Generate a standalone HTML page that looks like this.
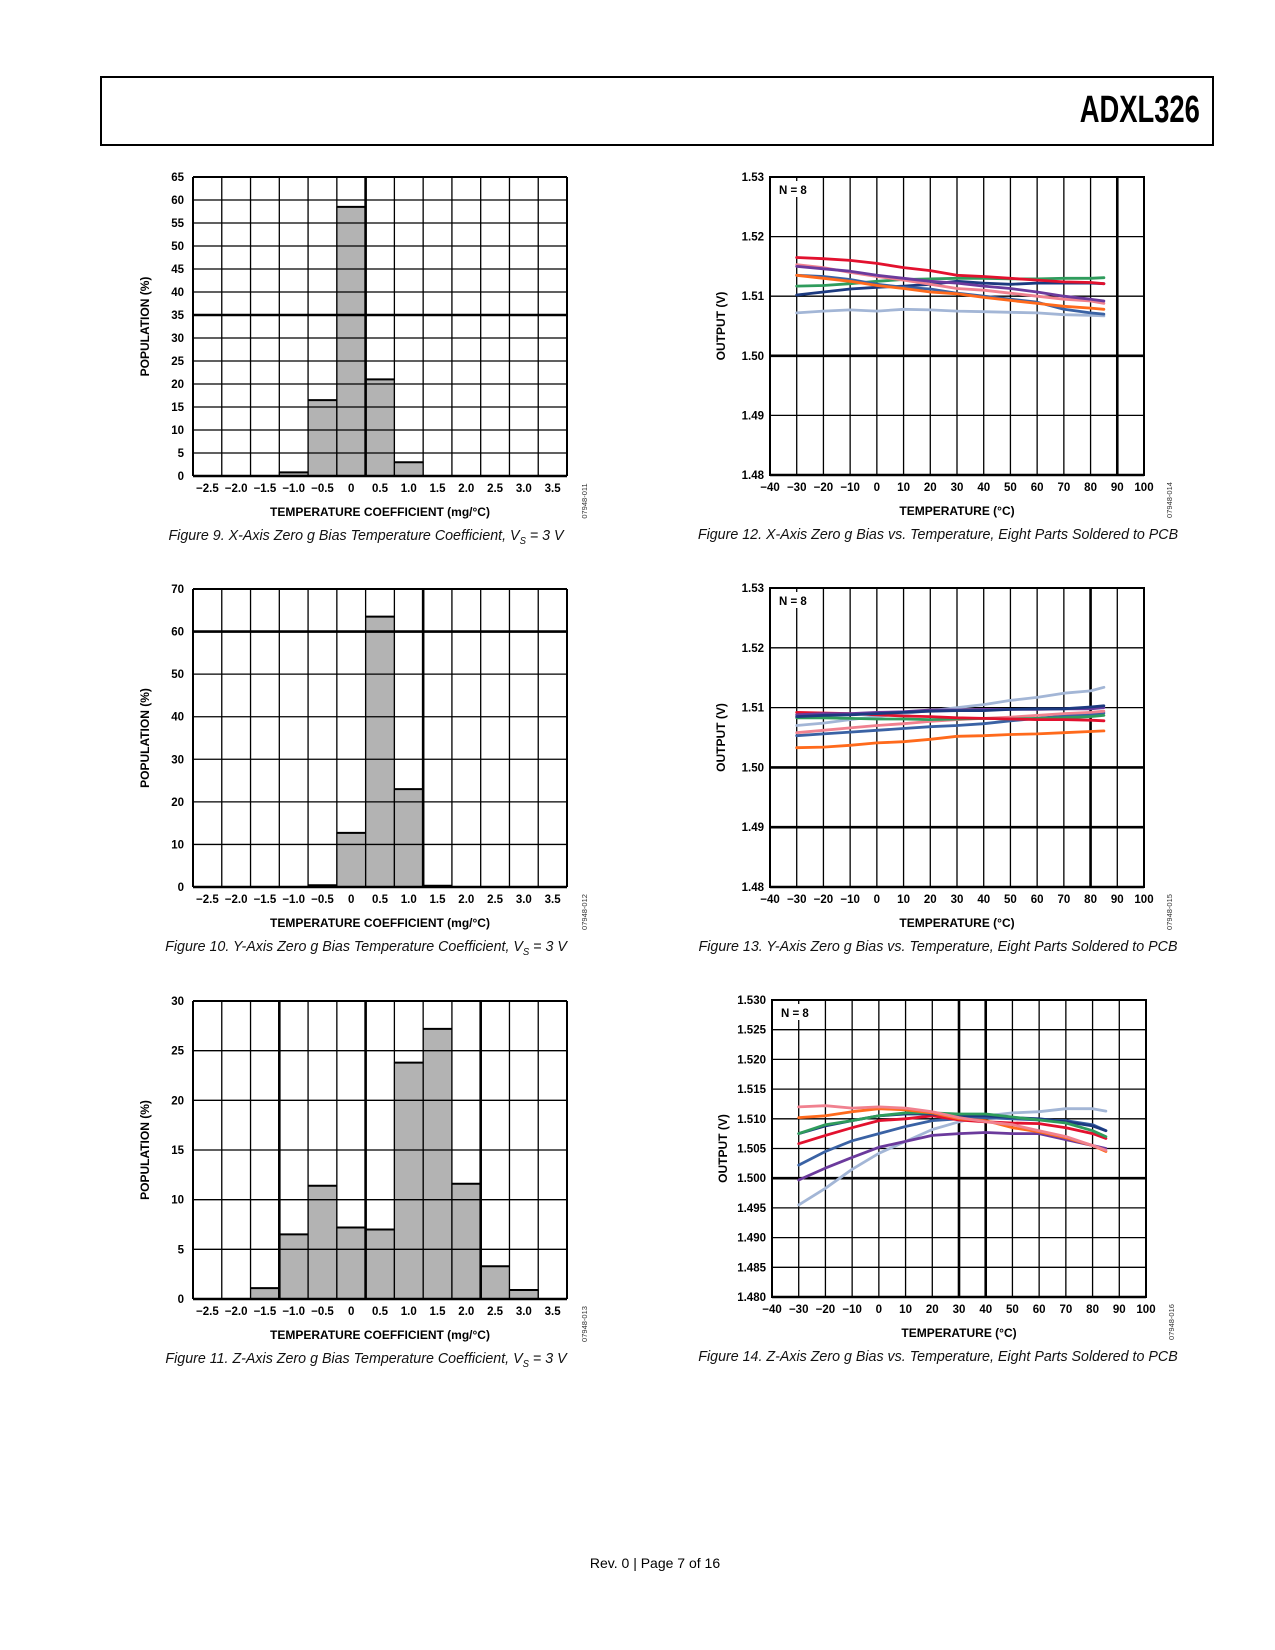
<!DOCTYPE html>
<html><head><meta charset="utf-8">
<style>
body{margin:0;background:#fff;width:1275px;height:1650px;position:relative;overflow:hidden;font-family:"Liberation Sans",sans-serif;}
#hdr{position:absolute;left:100px;top:76px;width:1110px;height:66px;border:2px solid #000;}
#hdr span{position:absolute;right:12px;top:11px;font-weight:bold;font-size:38px;transform:scaleX(0.72);transform-origin:right center;}
.cap{position:absolute;font-style:italic;font-size:15px;text-align:center;width:560px;color:#111;transform:scaleX(0.95);}
#foot{position:absolute;top:1555px;left:0;width:1310px;text-align:center;font-size:14px;}
svg{position:absolute;left:0;top:0;}
</style></head><body>
<div id="hdr"><span>ADXL326</span></div>
<div class="cap" style="left:86px;top:527px">Figure 9. X-Axis Zero g Bias Temperature Coefficient, V<sub style="font-size:10px">S</sub> = 3 V</div>
<div class="cap" style="left:86px;top:938px">Figure 10. Y-Axis Zero g Bias Temperature Coefficient, V<sub style="font-size:10px">S</sub> = 3 V</div>
<div class="cap" style="left:86px;top:1350px">Figure 11. Z-Axis Zero g Bias Temperature Coefficient, V<sub style="font-size:10px">S</sub> = 3 V</div>
<div class="cap" style="left:668px;top:526px;width:540px">Figure 12. X-Axis Zero g Bias vs. Temperature, Eight Parts Soldered to PCB</div>
<div class="cap" style="left:668px;top:938px;width:540px">Figure 13. Y-Axis Zero g Bias vs. Temperature, Eight Parts Soldered to PCB</div>
<div class="cap" style="left:668px;top:1348px;width:540px">Figure 14. Z-Axis Zero g Bias vs. Temperature, Eight Parts Soldered to PCB</div>
<div id="foot">Rev. 0 | Page 7 of 16</div>
<svg id="svg" width="1275" height="1650"></svg>
<script>
// Histogram data
const histCategories = ["−2.5","−2.0","−1.5","−1.0","−0.5","0","0.5","1.0","1.5","2.0","2.5","3.0","3.5"];
const fig9Values = [0,0,0,0.8,16.5,58.5,21,3,0,0,0,0,0];
const fig10Values = [0,0,0,0,0.4,12.7,63.5,23,0.3,0,0,0,0];
const fig11Values = [0,0,1.1,6.5,11.4,7.2,7.0,23.8,27.2,11.6,3.3,0.9,0];
const fig9Ticks = [0,5,10,15,20,25,30,35,40,45,50,55,60,65];
const fig10Ticks = [0,10,20,30,40,50,60,70];
const fig11Ticks = [0,5,10,15,20,25,30];
// Temperature line data
const temps = [-30,-20,-10,0,10,20,30,40,50,60,70,80,85];
const xTicks = [-40,-30,-20,-10,0,10,20,30,40,50,60,70,80,90,100];
const fig12Ticks = [1.48,1.49,1.50,1.51,1.52,1.53];
const fig13Ticks = [1.48,1.49,1.50,1.51,1.52,1.53];
const fig14Ticks = [1.480,1.485,1.490,1.495,1.500,1.505,1.510,1.515,1.520,1.525,1.530];
const f12red=[1.5165,1.5163,1.5160,1.5155,1.5148,1.5143,1.5135,1.5133,1.5130,1.5127,1.5124,1.5123,1.5121];
const f12pink=[1.5153,1.5148,1.5140,1.5133,1.5127,1.5120,1.5113,1.5110,1.5105,1.5100,1.5095,1.5092,1.5088];
const f12purple=[1.5150,1.5146,1.5142,1.5135,1.5130,1.5125,1.5122,1.5117,1.5113,1.5107,1.5100,1.5095,1.5092];
const f12orange=[1.5135,1.5130,1.5125,1.5118,1.5113,1.5107,1.5104,1.5098,1.5093,1.5088,1.5083,1.5080,1.5078];
const f12blue=[1.5135,1.5133,1.5128,1.5120,1.5115,1.5112,1.5105,1.5100,1.5095,1.5090,1.5078,1.5072,1.5070];
const f12navy=[1.5102,1.5107,1.5112,1.5115,1.5117,1.5120,1.5125,1.5122,1.5120,1.5122,1.5122,1.5122,1.5121];
const f12green=[1.5117,1.5118,1.5121,1.5125,1.5128,1.5129,1.5130,1.5130,1.5129,1.5129,1.5130,1.5130,1.5131];
const f12light=[1.5072,1.5075,1.5077,1.5075,1.5078,1.5077,1.5075,1.5074,1.5073,1.5072,1.5069,1.5068,1.5067];
const f13light=[1.5070,1.5074,1.5080,1.5085,1.5090,1.5095,1.5100,1.5105,1.5112,1.5117,1.5124,1.5128,1.5134];
const f13navy=[1.5085,1.5087,1.5088,1.5090,1.5092,1.5094,1.5095,1.5095,1.5097,1.5098,1.5098,1.5101,1.5103];
const f13purple=[1.5088,1.5090,1.5090,1.5092,1.5093,1.5096,1.5096,1.5097,1.5097,1.5097,1.5098,1.5098,1.5100];
const f13red=[1.5092,1.5091,1.5090,1.5088,1.5086,1.5085,1.5083,1.5082,1.5081,1.5080,1.5080,1.5079,1.5078];
const f13green=[1.5083,1.5083,1.5082,1.5081,1.5081,1.5080,1.5081,1.5082,1.5081,1.5082,1.5083,1.5085,1.5087];
const f13pink=[1.5058,1.5062,1.5066,1.5070,1.5073,1.5077,1.5080,1.5082,1.5084,1.5087,1.5090,1.5092,1.5094];
const f13blue=[1.5053,1.5056,1.5059,1.5062,1.5065,1.5068,1.5070,1.5073,1.5078,1.5082,1.5086,1.5089,1.5091];
const f13orange=[1.5033,1.5034,1.5037,1.5041,1.5043,1.5047,1.5052,1.5053,1.5055,1.5056,1.5058,1.5060,1.5061];
const f14pink=[1.5120,1.5122,1.5118,1.5120,1.5118,1.5112,1.5102,1.5095,1.5090,1.5080,1.5070,1.5055,1.5047];
const f14orange=[1.5102,1.5105,1.5112,1.5117,1.5115,1.5110,1.5100,1.5097,1.5085,1.5078,1.5068,1.5055,1.5045];
const f14green=[1.5075,1.5090,1.5097,1.5105,1.5110,1.5110,1.5108,1.5108,1.5103,1.5098,1.5093,1.5080,1.5070];
const f14navy=[1.5075,1.5088,1.5097,1.5105,1.5108,1.5108,1.5105,1.5105,1.5102,1.5100,1.5095,1.5088,1.5080];
const f14red=[1.5058,1.5072,1.5085,1.5097,1.5100,1.5105,1.5098,1.5095,1.5093,1.5092,1.5085,1.5075,1.5067];
const f14blue=[1.5022,1.5045,1.5063,1.5075,1.5087,1.5097,1.5100,1.5102,1.5100,1.5098,1.5097,1.5090,1.5080];
const f14purple=[1.4997,1.5017,1.5035,1.5052,1.5062,1.5072,1.5075,1.5077,1.5075,1.5075,1.5065,1.5055,1.5050];
const f14light=[1.4955,1.4983,1.5015,1.5042,1.5062,1.5082,1.5095,1.5105,1.5110,1.5112,1.5117,1.5117,1.5113];

const C={red:"#e2112e",pink:"#f0818f",purple:"#6b3a9c",orange:"#ff6a1c",blue:"#3a62a4",navy:"#1c3a80",green:"#2f9c5c",light:"#a3b6d6"};
const svg=document.getElementById('svg');
const NS="http://www.w3.org/2000/svg";
function mk(tag,attrs,parent){const e=document.createElementNS(NS,tag);for(const k in attrs)e.setAttribute(k,attrs[k]);(parent||svg).appendChild(e);return e;}
function txt(x,y,s,attrs,parent){const t=mk('text',Object.assign({x:x,y:y},attrs),parent);t.textContent=s;return t;}

function hist(name,L,T,R,B,cats,vals,ticks,thickH,thickV,code){
  const g=mk('g',{});
  
  
  const ymax=ticks[ticks.length-1];
  const n=cats.length,cw=(R-L)/n;
  const ys=v=>B-(v/ymax)*(B-T);
  const xs=i=>L+i*cw;
  vals.forEach((v,i)=>{if(v<=0)return;
    const r=mk('rect',{x:xs(i),y:ys(v),width:cw,height:B-ys(v),fill:'#b3b3b3',stroke:'#000','stroke-width':1},g);
    
    
    mk('line',{x1:xs(i),x2:xs(i+1),y1:ys(v),y2:ys(v),stroke:'#000','stroke-width':2},g);
  });
  ticks.forEach(t=>{const y=ys(t);
    mk('line',{x1:L,x2:R,y1:y,y2:y,stroke:'#000','stroke-width':thickH.includes(t)?2.6:1.3},g);
    const lb=txt(L-9,y+4,String(t),{'text-anchor':'end','font-size':11.5,'font-weight':'bold'},g);
    
    
  });
  for(let i=0;i<=n;i++){mk('line',{x1:xs(i),x2:xs(i),y1:T,y2:B,stroke:'#000','stroke-width':thickV.includes(i)?2.6:1.3},g);}
  cats.forEach((c,i)=>{const lb=txt(xs(i)+cw/2,B+16,c,{'text-anchor':'middle','font-size':11.5,'font-weight':'bold'},g);
    
    });
  mk('line',{x1:L,x2:R,y1:B,y2:B,stroke:'#000','stroke-width':2.4},g);
  mk('line',{x1:L,x2:L,y1:T,y2:B,stroke:'#000','stroke-width':2},g);
  mk('line',{x1:R,x2:R,y1:T,y2:B,stroke:'#000','stroke-width':2},g);
  mk('line',{x1:L,x2:R,y1:T,y2:T,stroke:'#000','stroke-width':2},g);
  const xt=txt((L+R)/2,B+40,'TEMPERATURE COEFFICIENT (mg/°C)',{'text-anchor':'middle','font-size':12,'font-weight':'bold'},g);
  
  
  const yt=txt(0,0,'POPULATION (%)',{'text-anchor':'middle','font-size':12,'font-weight':'bold',transform:`translate(${L-44},${(T+B)/2}) rotate(-90)`},g);
  
  
  txt(0,0,code,{'text-anchor':'middle','font-size':7.5,fill:'#333',transform:`translate(${R+20},${B+25}) rotate(-90)`},g);
}

function linechart(name,L,T,R,B,ticks,series,thickH,thickV,code,dec){
  const g=mk('g',{});
  
  
  const y0=ticks[0],y1=ticks[ticks.length-1];
  const ys=v=>B-(v-y0)/(y1-y0)*(B-T);
  const x0=xTicks[0],x1=xTicks[xTicks.length-1];
  const xs=v=>L+(v-x0)/(x1-x0)*(R-L);
  ticks.forEach(t=>{const y=ys(t);
    mk('line',{x1:L,x2:R,y1:y,y2:y,stroke:'#000','stroke-width':thickH.includes(t)?2.6:1.3},g);
    const lb=txt(L-6,y+4,t.toFixed(dec),{'text-anchor':'end','font-size':11.5,'font-weight':'bold'},g);
    
    
  });
  xTicks.forEach(t=>{const x=xs(t);
    mk('line',{x1:x,x2:x,y1:T,y2:B,stroke:'#000','stroke-width':thickV.includes(t)?2.6:1.3},g);
    const lb=txt(x,B+16,t<0?'−'+(-t):String(t),{'text-anchor':'middle','font-size':11.5,'font-weight':'bold'},g);
    
    
  });
  mk('rect',{x:L,y:T,width:R-L,height:B-T,fill:'none',stroke:'#000','stroke-width':2},g);
  mk('line',{x1:L,x2:R,y1:B,y2:B,stroke:'#000','stroke-width':2.4},g);
  mk('rect',{x:L+3,y:T+4,width:36,height:16,fill:'#fff'},g);
  const nl=txt(L+9,T+17,'N = 8',{'font-size':11.5,'font-weight':'bold'},g);
  
  
  series.forEach(([key,vals])=>{
    const d=vals.map((v,i)=>(i?'L':'M')+xs(temps[i]).toFixed(1)+','+ys(v).toFixed(1)).join(' ');
    const p=mk('path',{d:d,fill:'none',stroke:C[key],'stroke-width':2.8,'stroke-linejoin':'round','stroke-linecap':'round'},g);
    
    
  });
  const xt=txt((L+R)/2,B+40,'TEMPERATURE (°C)',{'text-anchor':'middle','font-size':12,'font-weight':'bold'},g);
  
  
  const yt=txt(0,0,'OUTPUT (V)',{'text-anchor':'middle','font-size':12,'font-weight':'bold',transform:`translate(${L-45},${(T+B)/2}) rotate(-90)`},g);
  
  
  txt(0,0,code,{'text-anchor':'middle','font-size':7.5,fill:'#333',transform:`translate(${R+28},${B+25}) rotate(-90)`},g);
}

hist('figure-9-histogram',193,177,567,476,histCategories,fig9Values,fig9Ticks,[35],[6],'07948-011');
hist('figure-10-histogram',193,589,567,887,histCategories,fig10Values,fig10Ticks,[60],[8],'07948-012');
hist('figure-11-histogram',193,1001,567,1299,histCategories,fig11Values,fig11Ticks,[],[3,6,10],'07948-013');
linechart('figure-12-line-chart',770,177,1144,475,fig12Ticks,
 [['light',f12light],['green',f12green],['navy',f12navy],['blue',f12blue],['orange',f12orange],['pink',f12pink],['purple',f12purple],['red',f12red]],[1.50],[90],'07948-014',2);
linechart('figure-13-line-chart',770,588,1144,887,fig13Ticks,
 [['light',f13light],['orange',f13orange],['blue',f13blue],['pink',f13pink],['green',f13green],['red',f13red],['purple',f13purple],['navy',f13navy]],[1.50,1.49],[80],'07948-015',2);
linechart('figure-14-line-chart',772,1000,1146,1297,fig14Ticks,
 [['light',f14light],['purple',f14purple],['blue',f14blue],['red',f14red],['navy',f14navy],['green',f14green],['orange',f14orange],['pink',f14pink]],[1.500],[30,40],'07948-016',3);
</script>
</body></html>
